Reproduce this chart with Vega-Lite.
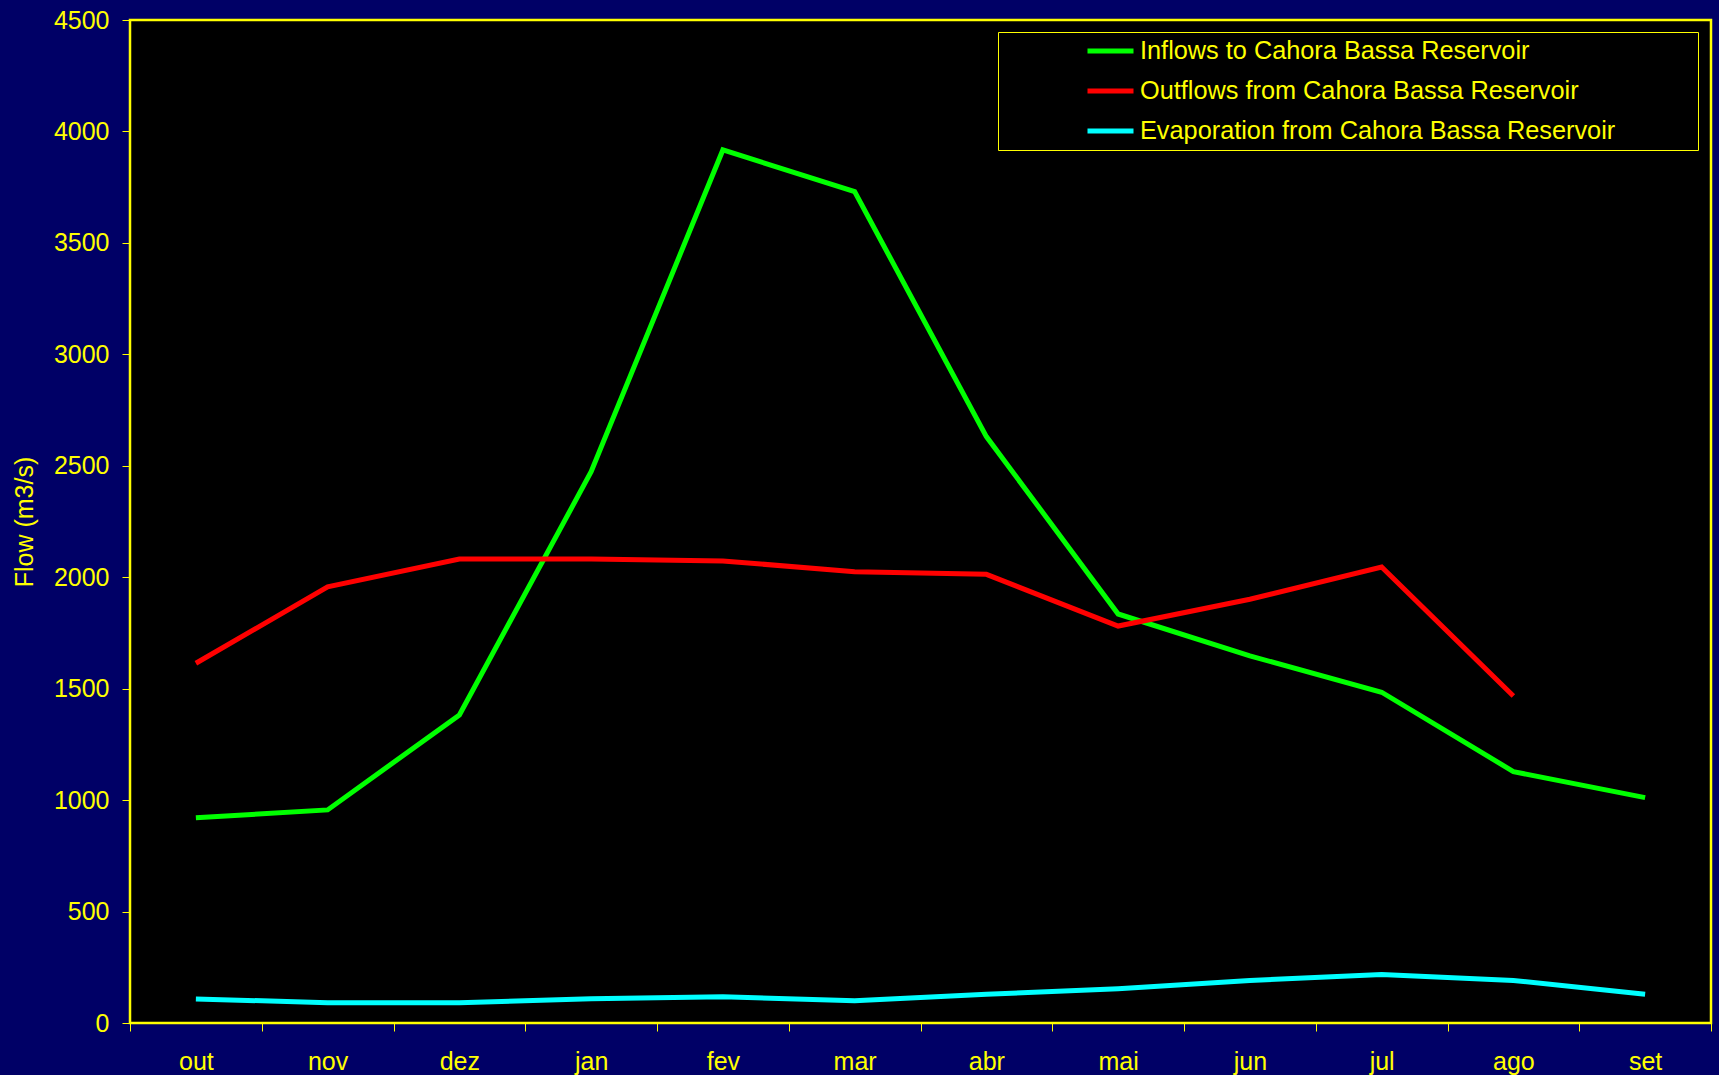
{
  "$schema": "https://vega.github.io/schema/vega-lite/v6.json",
  "width": 1581,
  "height": 1003,
  "autosize": {"type": "none"},
  "padding": {"left": 130, "top": 20, "right": 8, "bottom": 52},
  "background": "#000066",
  "config": {
    "view": {"fill": "#000000", "stroke": "#FFFF00", "strokeWidth": 2.5},
    "font": "Liberation Sans",
    "axis": {
      "labelColor": "#FFFF00",
      "labelFont": "Liberation Sans",
      "labelFontSize": 25,
      "tickColor": "#FFFF00",
      "tickSize": 8,
      "tickWidth": 1,
      "domain": false,
      "grid": false,
      "titleColor": "#FFFF00",
      "titleFont": "Liberation Sans",
      "titleFontSize": 25,
      "titleFontWeight": "normal"
    }
  },
  "data": {
    "values": [
      {"month": "out", "series": "Inflows to Cahora Bassa Reservoir", "flow": 921},
      {"month": "nov", "series": "Inflows to Cahora Bassa Reservoir", "flow": 956},
      {"month": "dez", "series": "Inflows to Cahora Bassa Reservoir", "flow": 1382},
      {"month": "jan", "series": "Inflows to Cahora Bassa Reservoir", "flow": 2473},
      {"month": "fev", "series": "Inflows to Cahora Bassa Reservoir", "flow": 3917},
      {"month": "mar", "series": "Inflows to Cahora Bassa Reservoir", "flow": 3730},
      {"month": "abr", "series": "Inflows to Cahora Bassa Reservoir", "flow": 2631},
      {"month": "mai", "series": "Inflows to Cahora Bassa Reservoir", "flow": 1835},
      {"month": "jun", "series": "Inflows to Cahora Bassa Reservoir", "flow": 1647},
      {"month": "jul", "series": "Inflows to Cahora Bassa Reservoir", "flow": 1484},
      {"month": "ago", "series": "Inflows to Cahora Bassa Reservoir", "flow": 1128},
      {"month": "set", "series": "Inflows to Cahora Bassa Reservoir", "flow": 1011},
      {"month": "out", "series": "Outflows from Cahora Bassa Reservoir", "flow": 1614},
      {"month": "nov", "series": "Outflows from Cahora Bassa Reservoir", "flow": 1957},
      {"month": "dez", "series": "Outflows from Cahora Bassa Reservoir", "flow": 2082},
      {"month": "jan", "series": "Outflows from Cahora Bassa Reservoir", "flow": 2082},
      {"month": "fev", "series": "Outflows from Cahora Bassa Reservoir", "flow": 2073},
      {"month": "mar", "series": "Outflows from Cahora Bassa Reservoir", "flow": 2025},
      {"month": "abr", "series": "Outflows from Cahora Bassa Reservoir", "flow": 2013},
      {"month": "mai", "series": "Outflows from Cahora Bassa Reservoir", "flow": 1781},
      {"month": "jun", "series": "Outflows from Cahora Bassa Reservoir", "flow": 1901},
      {"month": "jul", "series": "Outflows from Cahora Bassa Reservoir", "flow": 2046},
      {"month": "ago", "series": "Outflows from Cahora Bassa Reservoir", "flow": 1467},
      {"month": "out", "series": "Evaporation from Cahora Bassa Reservoir", "flow": 108},
      {"month": "nov", "series": "Evaporation from Cahora Bassa Reservoir", "flow": 91},
      {"month": "dez", "series": "Evaporation from Cahora Bassa Reservoir", "flow": 91},
      {"month": "jan", "series": "Evaporation from Cahora Bassa Reservoir", "flow": 109},
      {"month": "fev", "series": "Evaporation from Cahora Bassa Reservoir", "flow": 118},
      {"month": "mar", "series": "Evaporation from Cahora Bassa Reservoir", "flow": 100},
      {"month": "abr", "series": "Evaporation from Cahora Bassa Reservoir", "flow": 129},
      {"month": "mai", "series": "Evaporation from Cahora Bassa Reservoir", "flow": 154},
      {"month": "jun", "series": "Evaporation from Cahora Bassa Reservoir", "flow": 191},
      {"month": "jul", "series": "Evaporation from Cahora Bassa Reservoir", "flow": 218},
      {"month": "ago", "series": "Evaporation from Cahora Bassa Reservoir", "flow": 191},
      {"month": "set", "series": "Evaporation from Cahora Bassa Reservoir", "flow": 129}
    ]
  },
  "mark": {"type": "line", "strokeWidth": 5},
  "encoding": {
    "x": {
      "field": "month",
      "type": "ordinal",
      "sort": ["out", "nov", "dez", "jan", "fev", "mar", "abr", "mai", "jun", "jul", "ago", "set"],
      "scale": {"type": "band", "paddingInner": 0, "paddingOuter": 0},
      "axis": {"title": null, "labelAngle": 0, "tickBand": "extent", "labelPadding": 18}
    },
    "y": {
      "field": "flow",
      "type": "quantitative",
      "scale": {"domain": [0, 4500], "nice": false},
      "axis": {
        "values": [0, 500, 1000, 1500, 2000, 2500, 3000, 3500, 4000, 4500],
        "format": "d",
        "title": "Flow (m3/s)",
        "labelPadding": 13,
        "titleAngle": -90,
        "titleAlign": "center",
        "titleBaseline": "alphabetic",
        "titleX": -98,
        "titleY": 501.5
      }
    },
    "color": {
      "field": "series",
      "type": "nominal",
      "sort": ["Inflows to Cahora Bassa Reservoir", "Outflows from Cahora Bassa Reservoir", "Evaporation from Cahora Bassa Reservoir"],
      "scale": {
        "domain": ["Inflows to Cahora Bassa Reservoir", "Outflows from Cahora Bassa Reservoir", "Evaporation from Cahora Bassa Reservoir"],
        "range": ["#00FF00", "#FF0000", "#00FFFF"]
      },
      "legend": {
        "orient": "none",
        "legendX": 868,
        "legendY": 12,
        "title": " ",
        "titleOrient": "right",
        "titleFontSize": 1,
        "titlePadding": 78,
        "direction": "vertical",
        "fillColor": "#000000",
        "strokeColor": "#FFFF00",
        "padding": 5,
        "labelColor": "#FFFF00",
        "labelFont": "Liberation Sans",
        "labelFontSize": 25.3,
        "labelLimit": 0,
        "symbolType": "stroke",
        "symbolSize": 2116,
        "symbolStrokeWidth": 5,
        "symbolOffset": 82,
        "labelOffset": 4,
        "clipHeight": 28,
        "rowPadding": 12
      }
    }
  }
}
